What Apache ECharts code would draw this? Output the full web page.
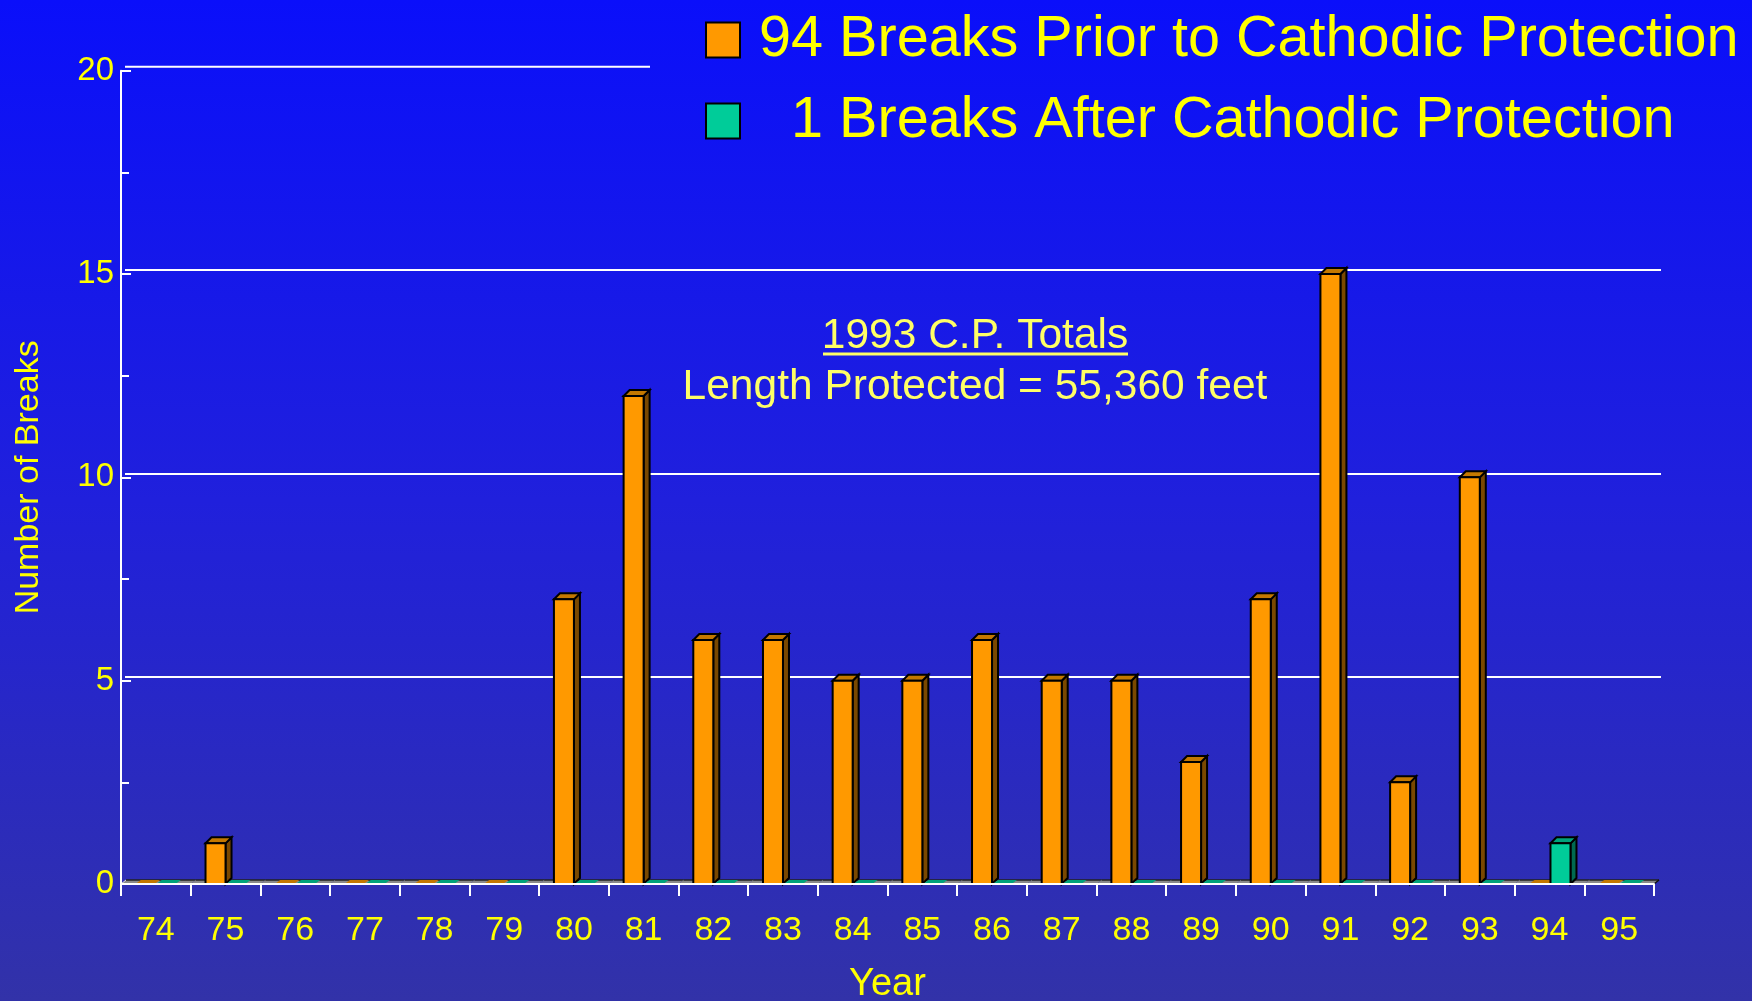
<!DOCTYPE html>
<html><head><meta charset="utf-8">
<script src="https://cdn.jsdelivr.net/npm/echarts@6/dist/echarts.min.js"></script>
<style>html,body{margin:0;padding:0;background:#1a1ae0}#c{width:1752px;height:1001px}</style>
</head><body><div id="c"></div>
<script>
// ---- data ----
const years = ['74','75','76','77','78','79','80','81','82','83','84','85','86','87','88','89','90','91','92','93','94','95'];
const priorBreaks = [0,1,0,0,0,0,7,12,6,6,5,5,6,5,5,3,7,15,2.5,10,0,0];
const afterBreaks = [0,0,0,0,0,0,0,0,0,0,0,0,0,0,0,0,0,0,0,0,1,0];
const seriesNames = ['94 Breaks Prior to Cathodic Protection', '  1 Breaks After Cathodic Protection'];
const yMin = 0, yMax = 20, yStep = 5;
const noteTitle = '1993 C.P. Totals';
const noteLine = 'Length Protected = 55,360 feet';

const FONT = '"Liberation Sans", Arial, Helvetica, sans-serif';
const YEL = '#ffff00';
const chart = echarts.init(document.getElementById('c'), null, {renderer: 'canvas'});

function makeRender(front, top, side, offset, drawFloor) {
  return function (params, api) {
    const i = api.value(0), v = api.value(1);
    const base = api.coord([i, 0]);
    const tp = api.coord([i, v]);
    const bw = api.size([1, 0])[0];
    const cx = base[0], y0 = base[1];
    const x0 = cx + offset, x1 = x0 + 20, d = 6;
    const ch = [];
    if (drawFloor) {
      const L = cx - bw / 2, R = cx + bw / 2, fd = 5;
      ch.push({type: 'polygon', shape: {points: [[L, y0], [R, y0], [R + fd, y0 - 4], [L + fd, y0 - 4]]},
        style: {fill: '#8a8a8a'}});
      ch.push({type: 'line', shape: {x1: L + fd, y1: y0 - 4, x2: R + fd, y2: y0 - 4}, style: {stroke: '#222', lineWidth: 1.5}});
      if (i === 0) ch.push({type: 'line', shape: {x1: L, y1: y0, x2: L + fd, y2: y0 - 4}, style: {stroke: '#ddd', lineWidth: 1}});
      if (i === years.length - 1) ch.push({type: 'line', shape: {x1: R, y1: y0, x2: R + fd, y2: y0 - 4}, style: {stroke: '#111', lineWidth: 1.5}});
    }
    if (v > 0) {
      const yt = tp[1];
      ch.push({type: 'polygon', shape: {points: [[x1, yt], [x1 + d, yt - d], [x1 + d, y0 - d], [x1, y0]]},
        style: {fill: side, stroke: '#000', lineWidth: 2}});
      ch.push({type: 'polygon', shape: {points: [[x0, yt], [x1, yt], [x1 + d, yt - d], [x0 + d, yt - d]]},
        style: {fill: top, stroke: '#000', lineWidth: 2}});
      ch.push({type: 'rect', shape: {x: x0, y: yt, width: x1 - x0, height: y0 - yt},
        style: {fill: front, stroke: '#000', lineWidth: 2}});
    } else {
      ch.push({type: 'polygon', shape: {points: [[x0 + 1, y0 - 1], [x1, y0 - 1], [x1 + 4, y0 - 4], [x0 + 5, y0 - 4]]},
        style: {fill: top}});
    }
    return {type: 'group', children: ch};
  };
}

const option = {
  backgroundColor: new echarts.graphic.LinearGradient(0, 0, 0, 1, [
    {offset: 0, color: '#0a0ffa'}, {offset: 0.5, color: '#2020dc'}, {offset: 1, color: '#3232a8'}]),
  animation: false,
  textStyle: {fontFamily: FONT},
  legend: {
    orient: 'vertical', left: 700, top: 6, icon: 'rect',
    itemWidth: 34, itemHeight: 35, itemGap: 23,
    itemStyle: {borderColor: '#000', borderWidth: 2},
    textStyle: {color: YEL, fontSize: 57.6, lineHeight: 57, fontFamily: FONT, padding: [0, 0, 0, 14]},
    data: seriesNames
  },
  grid: [
    {left: 121, right: 98, top: 70.7, bottom: 117, outerBoundsMode: 'none', containLabel: false},
    {left: 125, right: 91, top: 66.7, bottom: 121, outerBoundsMode: 'none', containLabel: false}
  ],
  xAxis: [{
    type: 'category', data: years, gridIndex: 0, boundaryGap: true,
    axisLine: {lineStyle: {color: '#fff', width: 2}},
    axisTick: {show: true, interval: 0, length: 12, lineStyle: {color: '#fff', width: 2}},
    axisLabel: {color: YEL, fontSize: 34, margin: 30, interval: 0, fontFamily: FONT},
    name: 'Year', nameLocation: 'middle', nameGap: 82,
    nameTextStyle: {color: YEL, fontSize: 38, fontFamily: FONT},
    z: 5
  }, {
    type: 'category', data: years, gridIndex: 1, show: false
  }],
  yAxis: [{
    type: 'value', gridIndex: 0, min: yMin, max: yMax, interval: yStep,
    axisLine: {show: true, lineStyle: {color: '#fff', width: 2}},
    axisTick: {show: true, inside: true, length: 10, lineStyle: {color: '#fff', width: 2}},
    minorTick: {show: true, splitNumber: 2, length: 8, lineStyle: {color: '#fff', width: 2}},
    axisLabel: {color: YEL, fontSize: 33, margin: 7, fontFamily: FONT},
    splitLine: {show: false},
    name: 'Number of Breaks', nameLocation: 'middle', nameGap: 75,
    nameTextStyle: {color: YEL, fontSize: 34, fontFamily: FONT},
    z: 5
  }, {
    type: 'value', gridIndex: 1, min: yMin, max: yMax, interval: yStep,
    axisLine: {show: false}, axisTick: {show: false}, axisLabel: {show: false},
    splitLine: {show: true, showMinLine: false, showMaxLine: false, lineStyle: {color: '#fff', width: 2}}
  }],
  series: [{
    name: seriesNames[0], type: 'custom', xAxisIndex: 0, yAxisIndex: 0,
    itemStyle: {color: '#ff9900'},
    renderItem: makeRender('#ff9900', '#c47800', '#7a4800', -20, true),
    encode: {x: 0, y: 1}, clip: false, z: 3,
    data: years.map((y, i) => [i, priorBreaks[i]])
  }, {
    name: seriesNames[1], type: 'custom', xAxisIndex: 0, yAxisIndex: 0,
    itemStyle: {color: '#00cc99'},
    renderItem: makeRender('#00cc99', '#00a37a', '#006a50', 1, false),
    encode: {x: 0, y: 1}, clip: false, z: 4,
    data: years.map((y, i) => [i, afterBreaks[i]])
  }]
};
chart.setOption(option);

// top gridline (partial) and annotation
const yTopLine = chart.convertToPixel({yAxisIndex: 1}, yMax);
const xLeft = chart.convertToPixel({xAxisIndex: 1}, years[0]) - chart.getModel().getComponent('xAxis', 1).axis.getBandWidth() / 2;
chart.setOption({
  graphic: [
    {type: 'line', shape: {x1: xLeft, y1: yTopLine, x2: 650, y2: yTopLine}, style: {stroke: '#fff', lineWidth: 2}, z: 1},
    {type: 'text', x: 975, y: 336, style: {text: noteTitle, fill: '#ffff66', font: '42.5px ' + FONT, textAlign: 'center', textVerticalAlign: 'middle'}},
    {type: 'line', shape: {x1: 823, y1: 354, x2: 1128, y2: 354}, style: {stroke: '#ffff66', lineWidth: 3}},
    {type: 'text', x: 975, y: 387, style: {text: noteLine, fill: '#ffff66', font: '42.5px ' + FONT, textAlign: 'center', textVerticalAlign: 'middle'}}
  ]
});
</script>
</body></html>
